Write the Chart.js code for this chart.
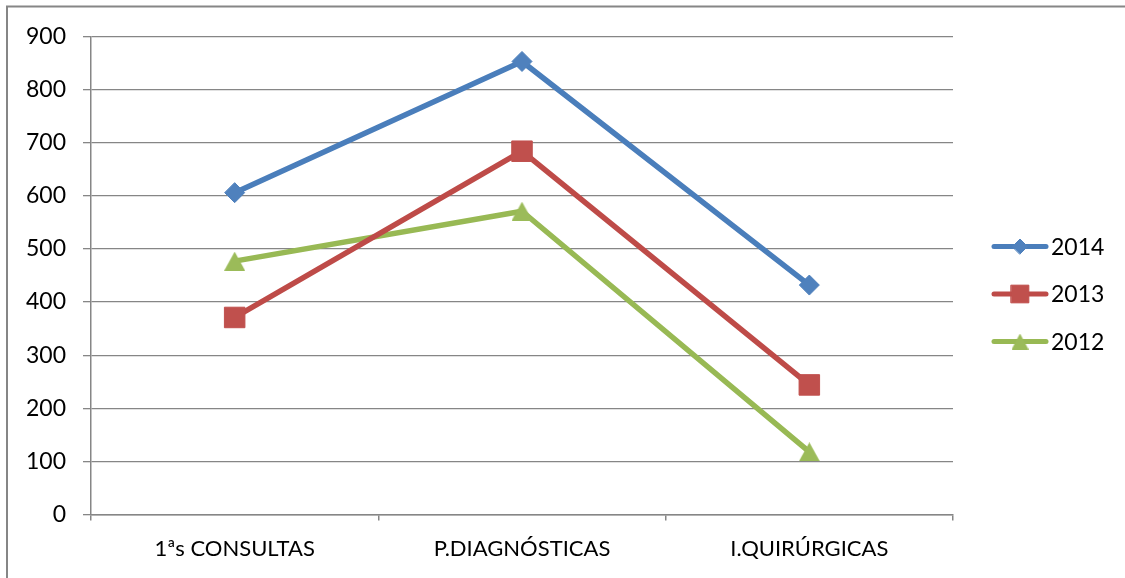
<!DOCTYPE html>
<html>
<head>
<meta charset="utf-8">
<script src="https://cdn.jsdelivr.net/npm/chart.js@4/dist/chart.umd.min.js"></script>
<style>
  html, body { margin: 0; padding: 0; background: #fff; }
  #wrap { width: 1125px; height: 578px; position: relative; }
</style>
</head>
<body>
<div id="wrap"><canvas id="c" width="1125" height="578"></canvas></div>
<script>
// Categories and yearly series
const categories = ['1ªs CONSULTAS', 'P.DIAGNÓSTICAS', 'I.QUIRÚRGICAS'];
const seriesNames = ['2014', '2013', '2012'];
const values2014 = [606, 853, 432];
const values2013 = [371, 684, 244];
const values2012 = [477, 571, 118];
const yTicks = [0, 100, 200, 300, 400, 500, 600, 700, 800, 900];

const FONT = 'Lato, "Open Sans", sans-serif';
const GRID = '#868686';

// Triangle marker centred on its own bounding box
function triangleCanvas(w, h, color) {
  const cv = document.createElement('canvas');
  cv.width = w; cv.height = h;
  const g = cv.getContext('2d');
  g.fillStyle = color;
  g.beginPath();
  g.moveTo(w / 2, 0);
  g.lineTo(w, h);
  g.lineTo(0, h);
  g.closePath();
  g.fill();
  return cv;
}

const styles = [
  { line: '#4A7EBB', fill: '#4F81BD', point: 'rectRot', radius: 10, legendRadius: 7.5 },
  { line: '#BE4B48', fill: '#C0504D', point: 'rect', radius: 14.5, legendRadius: 12.5 },
  { line: '#98B954', fill: '#9BBB59', point: triangleCanvas(21, 19, '#9BBB59'), legendPoint: triangleCanvas(17, 16, '#9BBB59') }
];
const seriesValues = [values2014, values2013, values2012];

const datasets = seriesNames.map((name, i) => ({
  label: name,
  data: seriesValues[i],
  borderColor: styles[i].line,
  backgroundColor: styles[i].fill,
  borderWidth: 5.5,
  borderJoinStyle: 'round',
  borderCapStyle: 'round',
  pointStyle: styles[i].point,
  pointRadius: styles[i].radius || 10,
  pointHoverRadius: styles[i].radius || 10,
  pointBorderWidth: 1,
  pointBorderColor: styles[i].fill,
  pointBackgroundColor: styles[i].fill,
  tension: 0
}));

// Frame lines along the top and left of the chart object
const framePlugin = {
  id: 'frame',
  beforeDraw(chart) {
    const ctx = chart.ctx;
    ctx.save();
    ctx.fillStyle = '#fff';
    ctx.fillRect(0, 0, chart.width, chart.height);
    ctx.strokeStyle = GRID;
    ctx.lineWidth = 2;
    ctx.beginPath();
    ctx.moveTo(7, chart.height);
    ctx.lineTo(7, 6.5);
    ctx.lineTo(chart.width, 6.5);
    ctx.stroke();
    ctx.restore();
  }
};

// Legend on the right: line segment with marker, then series name
const legendPlugin = {
  id: 'lineLegend',
  afterDraw(chart) {
    const ctx = chart.ctx;
    const x0 = 994, x1 = 1046, xm = 1020, xt = 1051;
    const ys = [246.5, 294, 341.5];
    ctx.save();
    chart.data.datasets.forEach((ds, i) => {
      const y = ys[i];
      ctx.strokeStyle = ds.borderColor;
      ctx.lineWidth = 5;
      ctx.lineCap = 'round';
      ctx.beginPath();
      ctx.moveTo(x0, y);
      ctx.lineTo(x1, y);
      ctx.stroke();
      const st = styles[i];
      ctx.fillStyle = st.fill;
      ctx.strokeStyle = st.fill;
      ctx.lineWidth = 1;
      Chart.helpers.drawPoint(ctx, {
        pointStyle: st.legendPoint || st.point,
        radius: st.legendRadius || 8,
        borderWidth: 1,
        rotation: 0
      }, xm, y);
      ctx.fillStyle = '#000';
      ctx.font = '23px ' + FONT;
      ctx.textBaseline = 'middle';
      ctx.textAlign = 'left';
      ctx.fillText(ds.label, xt, y + 1);
    });
    ctx.restore();
  }
};

new Chart(document.getElementById('c'), {
  type: 'line',
  data: { labels: categories, datasets },
  plugins: [framePlugin, legendPlugin],
  options: {
    responsive: false,
    animation: false,
    events: [],
    layout: { padding: { top: 36.5, right: 172, bottom: 0, left: 0 } },
    plugins: { legend: { display: false }, tooltip: { enabled: false } },
    scales: {
      x: {
        type: 'category',
        offset: true,
        afterFit(s) { s.height = 63.5; },
        border: { display: true, color: GRID, width: 1.5 },
        grid: {
          offset: true,
          drawOnChartArea: false,
          drawTicks: true,
          tickLength: 6,
          color: GRID,
          lineWidth: 1.5
        },
        ticks: {
          color: '#000',
          font: { family: FONT, size: 22 },
          padding: 15,
          maxRotation: 0,
          autoSkip: false
        }
      },
      y: {
        min: 0,
        max: 900,
        afterFit(s) { s.width = 91; },
        afterBuildTicks(s) { s.ticks = yTicks.map(v => ({ value: v })); },
        border: { display: true, color: GRID, width: 1.5 },
        grid: {
          color: GRID,
          lineWidth: 1.3,
          tickLength: 8,
          drawTicks: true
        },
        ticks: {
          color: '#000',
          font: { family: FONT, size: 23 },
          padding: 17
        }
      }
    }
  }
});
</script>
</body>
</html>
